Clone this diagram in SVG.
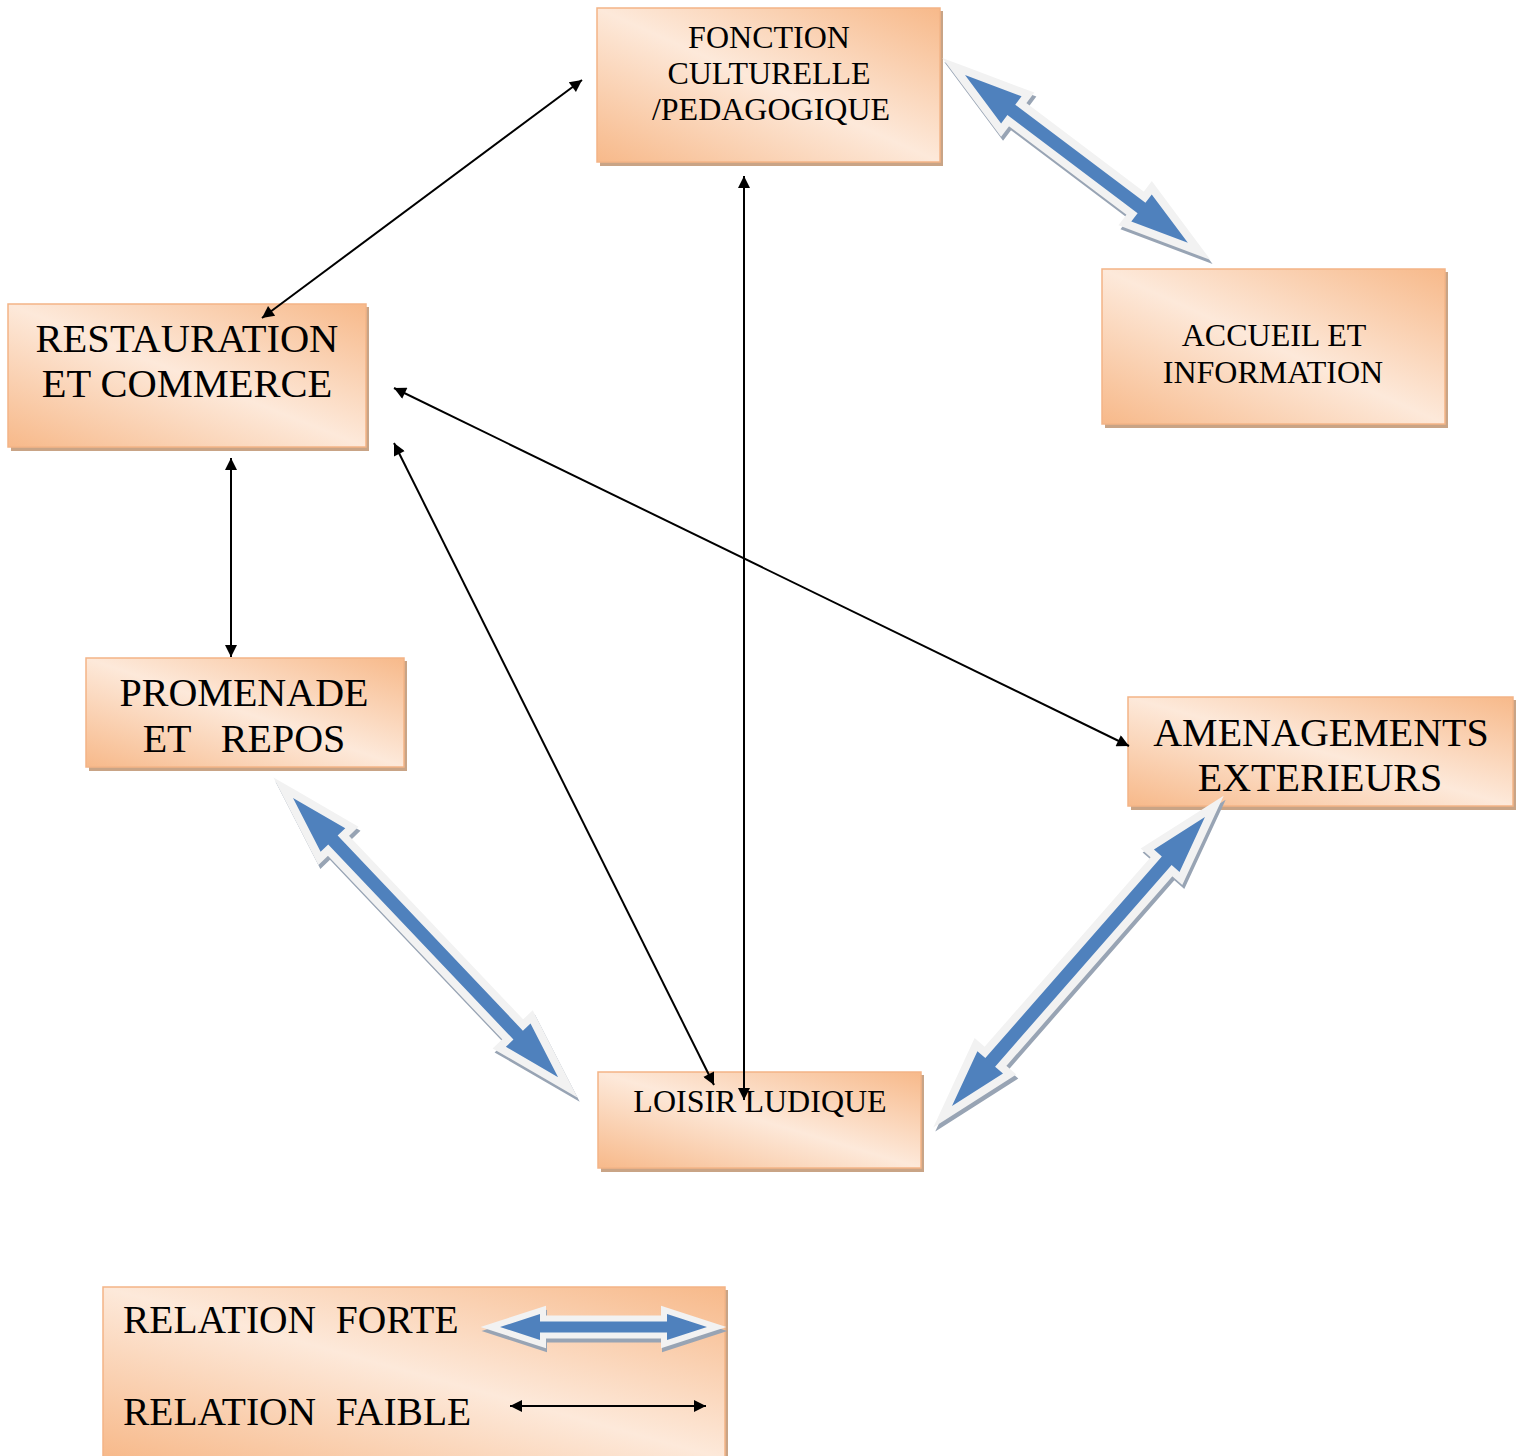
<svg xmlns="http://www.w3.org/2000/svg" xmlns:xlink="http://www.w3.org/1999/xlink" width="1521" height="1456" viewBox="0 0 1521 1456">
<style>
.box{fill:url(#grad);stroke:#f3b487;stroke-width:1.5}
.bsh{fill:#c9a486}
.t{font-family:"Liberation Serif","Times New Roman",serif;fill:#000;text-anchor:middle;white-space:pre}
.lt{font-family:"Liberation Serif","Times New Roman",serif;fill:#000;white-space:pre}
.thin{stroke:#000;stroke-width:2;fill:none;marker-start:url(#ah);marker-end:url(#ah)}
.sh{fill:#98a4b4;stroke:#98a4b4;stroke-width:16;stroke-linejoin:miter;stroke-miterlimit:10}
.ol{fill:#f2f2f2;stroke:#f2f2f2;stroke-width:16;stroke-linejoin:miter;stroke-miterlimit:10}
.bl{fill:#4f81bd}
.shs{fill:#98a4b4;stroke:#98a4b4;stroke-width:12;stroke-linejoin:miter;stroke-miterlimit:10}
.ols{fill:#f2f2f2;stroke:#f2f2f2;stroke-width:12;stroke-linejoin:miter;stroke-miterlimit:10}
</style>
<defs>
<linearGradient id="grad" x1="0" y1="1" x2="1" y2="0">
<stop offset="0" stop-color="#f7b98a"/>
<stop offset="0.5" stop-color="#fde9da"/>
<stop offset="1" stop-color="#f7b98a"/>
</linearGradient>
<marker id="ah" viewBox="0 0 10 10" refX="10" refY="5" markerWidth="16" markerHeight="12" markerUnits="userSpaceOnUse" orient="auto-start-reverse">
<path d="M0,0 L10,5 L0,10 Z" fill="#000"/>
</marker>
<path id="arA" transform="translate(965,75) rotate(36.99)" d="M0,0 L58,-17 L58,-6.5 L221,-6.5 L221,-17 L279,0 L221,17 L221,6.5 L58,6.5 L58,17 Z"/>
<path id="arB" transform="translate(293,798) rotate(46.48)" d="M0,0 L58,-17 L58,-6.5 L327,-6.5 L327,-17 L385,0 L327,17 L327,6.5 L58,6.5 L58,17 Z"/>
<path id="arC" transform="translate(952,1106) rotate(-48.8)" d="M0,0 L58,-17 L58,-6.5 L326,-6.5 L326,-17 L384,0 L326,17 L326,6.5 L58,6.5 L58,17 Z"/>
<path id="arL" transform="translate(500,1327)" d="M0,0 L40,-13 L40,-5.5 L167,-5.5 L167,-13 L207,0 L167,13 L167,5.5 L40,5.5 L40,13 Z"/>
</defs>
<rect width="1521" height="1456" fill="#fff"/>

<g id="node-fonction">
<rect class="bsh" x="600" y="11" width="343" height="155"/>
<rect class="box" x="597" y="8" width="343" height="154"/>
<text class="t" font-size="32" x="769" y="48">FONCTION</text>
<text class="t" font-size="32" x="769" y="84">CULTURELLE</text>
<text class="t" font-size="32" x="771" y="120">/PEDAGOGIQUE</text>
</g>

<g id="node-accueil">
<rect class="bsh" x="1105" y="272" width="343" height="156"/>
<rect class="box" x="1102" y="269" width="343" height="155"/>
<text class="t" font-size="32" x="1274" y="346">ACCUEIL ET</text>
<text class="t" font-size="32" x="1273" y="383">INFORMATION</text>
</g>

<g id="node-restauration">
<rect class="bsh" x="11" y="307" width="358" height="144"/>
<rect class="box" x="8" y="304" width="358" height="143"/>
<text class="t" font-size="40.5" x="187" y="352">RESTAURATION</text>
<text class="t" font-size="40.5" x="187" y="397">ET COMMERCE</text>
</g>

<g id="node-promenade">
<rect class="bsh" x="89" y="661" width="318" height="110"/>
<rect class="box" x="86" y="658" width="318" height="109"/>
<text class="t" font-size="40" x="244" y="706">PROMENADE</text>
<text class="t" font-size="40" x="244" y="752">ET   REPOS</text>
</g>

<g id="node-amenagements">
<rect class="bsh" x="1131" y="700" width="385" height="110"/>
<rect class="box" x="1128" y="697" width="385" height="109"/>
<text class="t" font-size="40" x="1321" y="746">AMENAGEMENTS</text>
<text class="t" font-size="40" x="1320" y="791">EXTERIEURS</text>
</g>

<g id="node-loisir">
<rect class="bsh" x="601" y="1075" width="323" height="97"/>
<rect class="box" x="598" y="1072" width="323" height="96"/>
<text class="t" font-size="32" x="760" y="1112">LOISIR LUDIQUE</text>
</g>

<g id="connectors">
<line class="thin" x1="262" y1="318" x2="582" y2="80"/>
<line class="thin" x1="744" y1="176" x2="744" y2="1100"/>
<line class="thin" x1="231" y1="458" x2="231" y2="657"/>
<line class="thin" x1="394" y1="388" x2="1129" y2="746"/>
<line class="thin" x1="394" y1="443" x2="714" y2="1085"/>

<use xlink:href="#arA" class="sh" transform="translate(2,4)"/>
<use xlink:href="#arA" class="ol"/>
<use xlink:href="#arA" class="bl"/>
<use xlink:href="#arB" class="sh" transform="translate(2,4)"/>
<use xlink:href="#arB" class="ol"/>
<use xlink:href="#arB" class="bl"/>
<use xlink:href="#arC" class="sh" transform="translate(2,4)"/>
<use xlink:href="#arC" class="ol"/>
<use xlink:href="#arC" class="bl"/>
</g>

<g id="legend">
<rect class="bsh" x="106" y="1290" width="622" height="170"/>
<rect class="box" x="103" y="1287" width="622" height="172"/>
<text class="lt" font-size="39.5" x="123" y="1333">RELATION  FORTE</text>
<text class="lt" font-size="39.5" x="123" y="1425">RELATION  FAIBLE</text>
<use xlink:href="#arL" class="shs" transform="translate(1,4)"/>
<use xlink:href="#arL" class="ols"/>
<use xlink:href="#arL" class="bl"/>
<line class="thin" x1="510" y1="1406" x2="706" y2="1406"/>
</g>
</svg>
